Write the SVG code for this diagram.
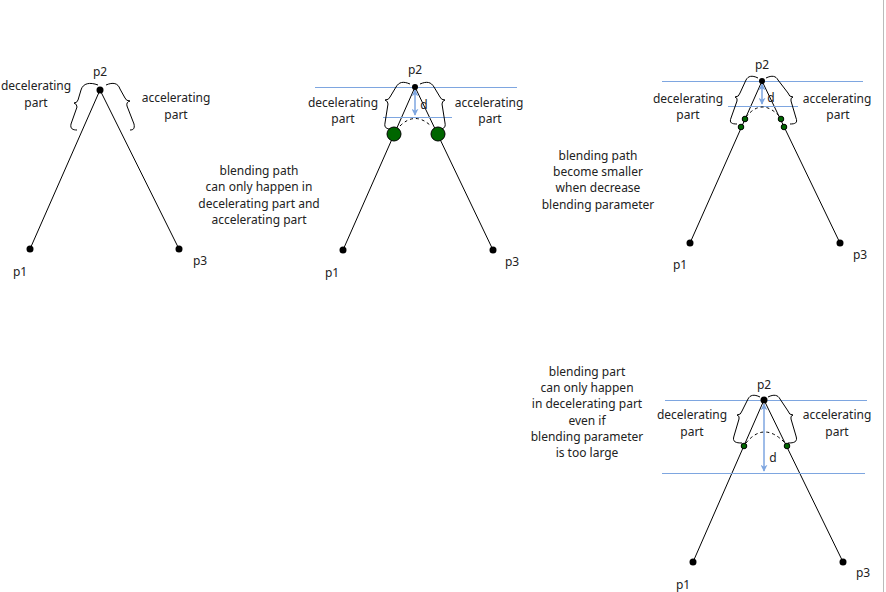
<svg xmlns="http://www.w3.org/2000/svg" width="886" height="592" viewBox="0 0 886 592">
<style>
.t{font-family:"Noto Sans","Open Sans",sans-serif;font-size:12px;fill:#222;text-anchor:middle}
.ln{stroke:#000;stroke-width:1;fill:none}
.br{stroke:#000;stroke-width:1;fill:none}
.bl{stroke:#7EA6E0;stroke-width:1;fill:none}
.ar{stroke:#7EA6E0;stroke-width:1.5;fill:none;marker-start:url(#ah);marker-end:url(#ah)}
.dot{fill:#000}
.g{fill:#006600;stroke:#000;stroke-width:1}
.da{stroke:#000;stroke-width:1;fill:none;stroke-dasharray:3 3}
</style>
<defs>
<marker id="ah" viewBox="0 0 10 10" refX="9" refY="5" markerWidth="7" markerHeight="7" orient="auto-start-reverse" markerUnits="userSpaceOnUse">
<path d="M0,0 L10,5 L0,10 L3,5 Z" fill="#7EA6E0"/>
</marker>
</defs>
<rect width="886" height="592" fill="#fff"/>
<line x1="883.5" y1="0" x2="883.5" y2="592" stroke="#bbb" stroke-width="1"/>

<g id="connectors">
<line class="ln" x1="100" y1="90" x2="30" y2="249"/>
<line class="ln" x1="100" y1="90" x2="179" y2="249"/>
<line class="ln" x1="415" y1="87" x2="343" y2="250"/>
<line class="ln" x1="415" y1="87" x2="493" y2="250"/>
<line class="ln" x1="762" y1="81" x2="690" y2="243"/>
<line class="ln" x1="762" y1="81" x2="840" y2="243"/>
<line class="ln" x1="764" y1="400" x2="693" y2="562"/>
<line class="ln" x1="764" y1="400" x2="843" y2="562"/>
</g>

<g id="diagram1">
<path class="br" d="M98,85 C90,82 83,83 81,90 L78,100 Q77,103 74,103 Q77,104 77,107 L71,124 C70,129 73,130 77,130"/>
<path class="br" d="M106,85 C113,82 118,83 120,89 L125,98 Q126,101 130,101 Q126,102 127,106 L134,124 C135,129 133,130 130,130"/>
<circle class="dot" cx="100" cy="90" r="3.5"/>
<circle class="dot" cx="30" cy="249" r="3.5"/>
<circle class="dot" cx="179" cy="249" r="3.5"/>
<text class="t" x="100" y="76">p2</text>
<text class="t" x="20" y="276">p1</text>
<text class="t" x="200" y="265">p3</text>
<text class="t" x="36" y="90">decelerating</text>
<text class="t" x="36" y="107">part</text>
<text class="t" x="176" y="102">accelerating</text>
<text class="t" x="176" y="119">part</text>
</g>

<g id="note1">
<text class="t" x="259" y="175">blending path</text>
<text class="t" x="259" y="191">can only happen in</text>
<text class="t" x="259" y="208">decelerating part and</text>
<text class="t" x="259" y="224">accelerating part</text>
</g>

<g id="diagram2">
<line class="bl" x1="315" y1="87.5" x2="517" y2="87.5"/>
<line class="bl" x1="383" y1="117.5" x2="452" y2="117.5"/>
<path class="br" d="M410,84 C403,81 399,82 396,87 L390,97 Q389,100 385,100 Q388,101 388,104 L385,123 C384,128 387,129 391,129"/>
<path class="br" d="M420,84 C427,81 431,82 434,87 L440,97 Q441,100 445,100 Q442,101 442,104 L445,123 C446,128 443,129 439,129"/>
<path class="da" d="M400,126 Q415,111 431,126"/>
<line class="ar" x1="415" y1="90" x2="415" y2="115"/>
<text class="t" x="424" y="109">d</text>
<circle class="g" cx="394" cy="134" r="7"/>
<circle class="g" cx="438" cy="134" r="7"/>
<circle class="dot" cx="415" cy="87" r="3"/>
<circle class="dot" cx="343" cy="250" r="3.5"/>
<circle class="dot" cx="493" cy="250" r="3.5"/>
<text class="t" x="415" y="74">p2</text>
<text class="t" x="332" y="277">p1</text>
<text class="t" x="512" y="266">p3</text>
<text class="t" x="343" y="107">decelerating</text>
<text class="t" x="343" y="123">part</text>
<text class="t" x="489" y="107">accelerating</text>
<text class="t" x="490" y="123">part</text>
</g>

<g id="note2">
<text class="t" x="598" y="160">blending path</text>
<text class="t" x="598" y="176">become smaller</text>
<text class="t" x="598" y="192">when decrease</text>
<text class="t" x="598" y="209">blending parameter</text>
</g>

<g id="diagram3">
<line class="bl" x1="662" y1="81.5" x2="863" y2="81.5"/>
<line class="bl" x1="728" y1="106.5" x2="798" y2="106.5"/>
<path class="br" d="M758,78 C752,75 748,76 746,80 L740,93 Q739,97 735,97 Q738,98 737,101 L731,118 C729,123 732,124 737,124"/>
<path class="br" d="M766,78 C772,75 776,76 778,80 L788,93 Q789,97 793,97 Q790,98 791,101 L796,118 C798,123 795,124 790,124"/>
<path class="da" d="M746,117 Q762,97 780,117" stroke="#999"/>
<line class="ar" x1="762" y1="84" x2="762" y2="104"/>
<text class="t" x="771" y="102">d</text>
<circle class="g" cx="745" cy="119" r="2.8"/>
<circle class="g" cx="741" cy="127" r="2.8"/>
<circle class="g" cx="781" cy="119" r="2.8"/>
<circle class="g" cx="784" cy="127" r="2.8"/>
<circle class="dot" cx="762" cy="81" r="3"/>
<circle class="dot" cx="690" cy="243" r="3.5"/>
<circle class="dot" cx="840" cy="243" r="3.5"/>
<text class="t" x="762" y="69">p2</text>
<text class="t" x="680" y="269">p1</text>
<text class="t" x="860" y="259">p3</text>
<text class="t" x="688" y="103">decelerating</text>
<text class="t" x="688" y="119">part</text>
<text class="t" x="837" y="103">accelerating</text>
<text class="t" x="838" y="119">part</text>
</g>

<g id="note3">
<text class="t" x="587" y="376">blending part</text>
<text class="t" x="587" y="392">can only happen</text>
<text class="t" x="587" y="408">in decelerating part</text>
<text class="t" x="587" y="425">even if</text>
<text class="t" x="587" y="441">blending parameter</text>
<text class="t" x="587" y="457">is too large</text>
</g>

<g id="diagram4">
<line class="bl" x1="665" y1="400.5" x2="867" y2="400.5"/>
<line class="bl" x1="662" y1="473.5" x2="865" y2="473.5"/>
<path class="br" d="M760,397 C754,394 750,395 748,399 L742,411 Q741,415 737,415 Q740,416 739,419 L734,436 C732,442 736,443 742,443"/>
<path class="br" d="M768,397 C774,394 778,395 780,399 L788,411 Q789,415 793,415 Q790,416 791,419 L796,436 C798,442 794,443 788,443"/>
<path class="da" d="M746,443 Q764,421 785,443"/>
<line class="ar" x1="764" y1="404" x2="764" y2="471"/>
<text class="t" x="773" y="462">d</text>
<circle class="g" cx="744" cy="446" r="2.8"/>
<circle class="g" cx="787" cy="446" r="2.8"/>
<circle class="dot" cx="764" cy="400" r="3.5"/>
<circle class="dot" cx="693" cy="562" r="3.5"/>
<circle class="dot" cx="843" cy="562" r="3.5"/>
<text class="t" x="764" y="389">p2</text>
<text class="t" x="683" y="589">p1</text>
<text class="t" x="863" y="577">p3</text>
<text class="t" x="692" y="419">decelerating</text>
<text class="t" x="692" y="436">part</text>
<text class="t" x="837" y="419">accelerating</text>
<text class="t" x="837" y="436">part</text>
</g>
</svg>
